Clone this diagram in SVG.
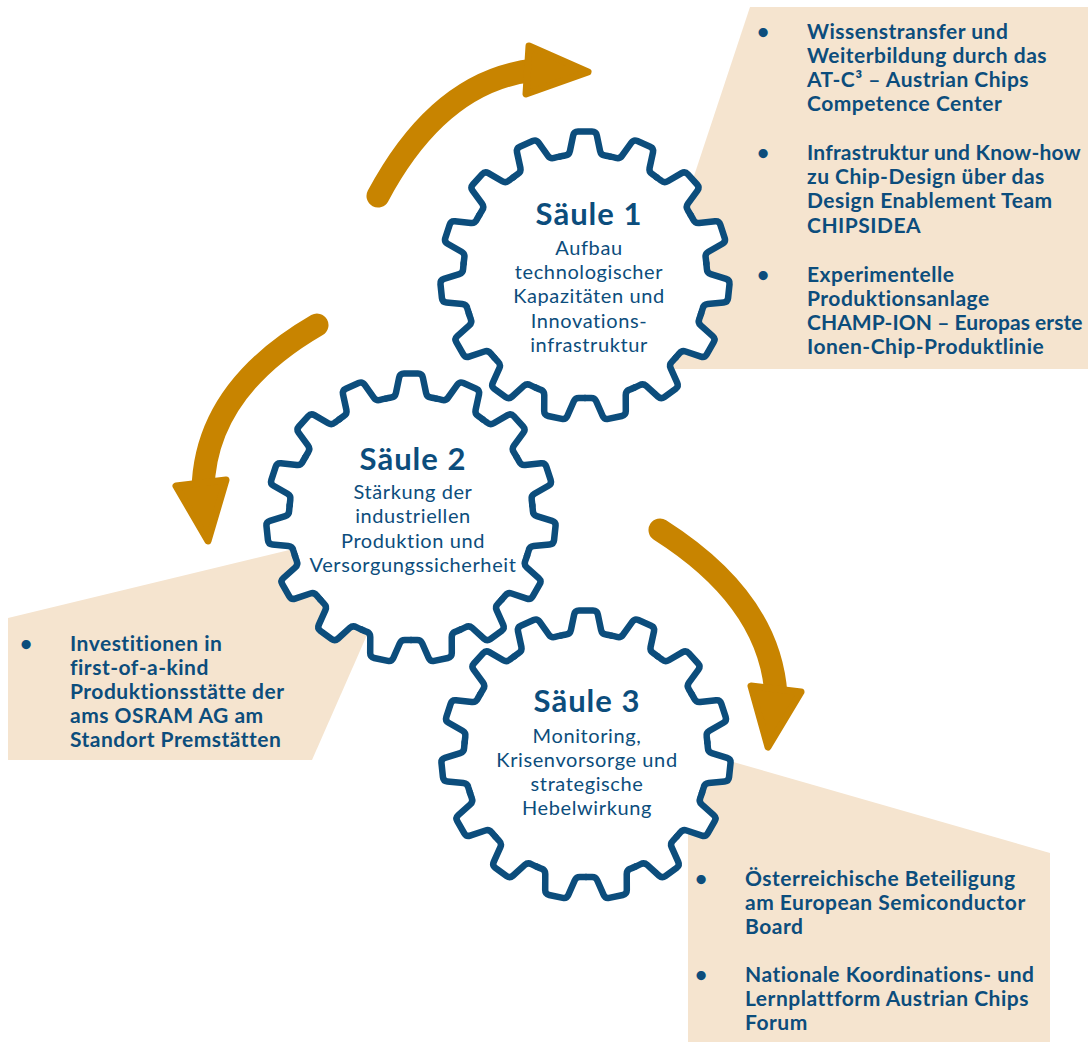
<svg xmlns="http://www.w3.org/2000/svg" xmlns:xlink="http://www.w3.org/1999/xlink" width="1088" height="1042" viewBox="0 0 1088 1042">
<style>
.panel{fill:#f5e4cf}
.pt{font-family:Lato,"Noto Sans",sans-serif;font-weight:700;font-size:21px;letter-spacing:0.5px;fill:#0c4d7c}
.ttl{font-family:Lato,"Noto Sans",sans-serif;font-weight:700;font-size:31px;letter-spacing:1px;fill:#0c4d7c;text-anchor:middle}
.sub{font-family:Lato,"Noto Sans",sans-serif;font-weight:400;font-size:20px;letter-spacing:0.6px;fill:#0c4d7c;text-anchor:middle}
.shaft{fill:none;stroke:#c88400;stroke-width:23;stroke-linecap:round}
.head{fill:#c88400;stroke:#c88400;stroke-width:7;stroke-linejoin:round}
</style>
<defs>
<path id="tf" d="M0 0 L-25.37 -119.33 A122 122 0 0 1 -19.89 -120.44 Q-15.92 -120.96 -15.10 -124.88 L-11.82 -140.66 Q-11.0 -144.58 -7.0 -144.58 L7.0 -144.58 Q11.0 -144.58 11.82 -140.66 L15.10 -124.88 Q15.92 -120.96 19.89 -120.44 A122 122 0 0 1 25.37 -119.33 Z"/>
<path id="ts" d="M-25.37 -119.33 A122 122 0 0 1 -19.89 -120.44 Q-15.92 -120.96 -15.10 -124.88 L-11.82 -140.66 Q-11.0 -144.58 -7.0 -144.58 L7.0 -144.58 Q11.0 -144.58 11.82 -140.66 L15.10 -124.88 Q15.92 -120.96 19.89 -120.44 A122 122 0 0 1 25.37 -119.33"/>
<g id="gear">
<circle r="123" fill="#ffffff"/>
<g fill="#ffffff">
<use href="#tf"/><use href="#tf" transform="rotate(24)"/><use href="#tf" transform="rotate(48)"/><use href="#tf" transform="rotate(72)"/><use href="#tf" transform="rotate(96)"/><use href="#tf" transform="rotate(120)"/><use href="#tf" transform="rotate(144)"/><use href="#tf" transform="rotate(168)"/><use href="#tf" transform="rotate(192)"/><use href="#tf" transform="rotate(216)"/><use href="#tf" transform="rotate(240)"/><use href="#tf" transform="rotate(264)"/><use href="#tf" transform="rotate(288)"/><use href="#tf" transform="rotate(312)"/><use href="#tf" transform="rotate(336)"/>
</g>
<g fill="none" stroke="#0c4d7c" stroke-width="6.5" stroke-linecap="round" stroke-linejoin="round">
<use href="#ts"/><use href="#ts" transform="rotate(24)"/><use href="#ts" transform="rotate(48)"/><use href="#ts" transform="rotate(72)"/><use href="#ts" transform="rotate(96)"/><use href="#ts" transform="rotate(120)"/><use href="#ts" transform="rotate(144)"/><use href="#ts" transform="rotate(168)"/><use href="#ts" transform="rotate(192)"/><use href="#ts" transform="rotate(216)"/><use href="#ts" transform="rotate(240)"/><use href="#ts" transform="rotate(264)"/><use href="#ts" transform="rotate(288)"/><use href="#ts" transform="rotate(312)"/><use href="#ts" transform="rotate(336)"/>
</g>
</g>
</defs>
<rect width="1088" height="1042" fill="#ffffff"/>

<g id="panel1">
<polygon class="panel" points="750,7 1088,7 1088,369 630,369"/>
<text class="pt"><tspan x="757" y="39">•</tspan><tspan x="807" y="39">Wissenstransfer und</tspan><tspan x="807" y="63">Weiterbildung durch das</tspan><tspan x="807" y="87">AT-C³ – Austrian Chips</tspan><tspan x="807" y="111">Competence Center</tspan></text>
<text class="pt"><tspan x="757" y="160">•</tspan></text>
<text class="pt" x="807" y="160" textLength="274" lengthAdjust="spacing">Infrastruktur und Know-how</text>
<text class="pt"><tspan x="807" y="184">zu Chip-Design über das</tspan><tspan x="807" y="208">Design Enablement Team</tspan><tspan x="807" y="233">CHIPSIDEA</tspan></text>
<text class="pt"><tspan x="757" y="282">•</tspan><tspan x="807" y="282">Experimentelle</tspan><tspan x="807" y="306">Produktionsanlage</tspan></text>
<text class="pt" x="807" y="330" textLength="276" lengthAdjust="spacing">CHAMP-ION – Europas erste</text>
<text class="pt"><tspan x="807" y="354">Ionen-Chip-Produktlinie</tspan></text>
</g>

<g id="panel2">
<polygon class="panel" points="8,618 418,519 312,760 8,760"/>
<text class="pt"><tspan x="20" y="651">•</tspan><tspan x="70" y="651">Investitionen in</tspan><tspan x="70" y="675">first-of-a-kind</tspan><tspan x="70" y="699">Produktionsstätte der</tspan><tspan x="70" y="723">ams OSRAM AG am</tspan><tspan x="70" y="747">Standort Premstätten</tspan></text>
</g>

<g id="panel3">
<polygon class="panel" points="688,749 1050,853 1050,1042 688,1042"/>
<text class="pt"><tspan x="695" y="886">•</tspan><tspan x="745" y="886">Österreichische Beteiligung</tspan><tspan x="745" y="910">am European Semiconductor</tspan><tspan x="745" y="934">Board</tspan></text>
<text class="pt"><tspan x="695" y="982">•</tspan><tspan x="745" y="982">Nationale Koordinations- und</tspan><tspan x="745" y="1006">Lernplattform Austrian Chips</tspan><tspan x="745" y="1030">Forum</tspan></text>
</g>

<g id="connectors">
<path class="shaft" d="M378 196 Q440 80 535 70"/>
<polygon class="head" points="529,46 588,72 526,94"/>
<path class="shaft" d="M317 325 Q205 390 203 490"/>
<polygon class="head" points="176,486 226,480 208,541"/>
<path class="shaft" d="M660 530 Q770 600 776 695"/>
<polygon class="head" points="751,686 801,692 768,747"/>
</g>

<g id="gear1">
<use href="#gear" transform="translate(585,276)"/>
<text class="ttl" x="589" y="225">Säule 1</text>
<text class="sub"><tspan x="589" y="255">Aufbau</tspan><tspan x="589" y="279">technologischer</tspan><tspan x="589" y="303">Kapazitäten und</tspan><tspan x="589" y="328">Innovations-</tspan><tspan x="589" y="352">infrastruktur</tspan></text>
</g>

<g id="gear2">
<use href="#gear" transform="translate(411,518)"/>
<text class="ttl" x="413" y="470">Säule 2</text>
<text class="sub"><tspan x="413" y="499">Stärkung der</tspan><tspan x="413" y="523">industriellen</tspan><tspan x="413" y="548">Produktion und</tspan><tspan x="413" y="572">Versorgungssicherheit</tspan></text>
</g>

<g id="gear3">
<use href="#gear" transform="translate(586,755)"/>
<text class="ttl" x="587" y="712">Säule 3</text>
<text class="sub"><tspan x="587" y="743">Monitoring,</tspan><tspan x="587" y="767">Krisenvorsorge und</tspan><tspan x="587" y="791">strategische</tspan><tspan x="587" y="815">Hebelwirkung</tspan></text>
</g>
</svg>
